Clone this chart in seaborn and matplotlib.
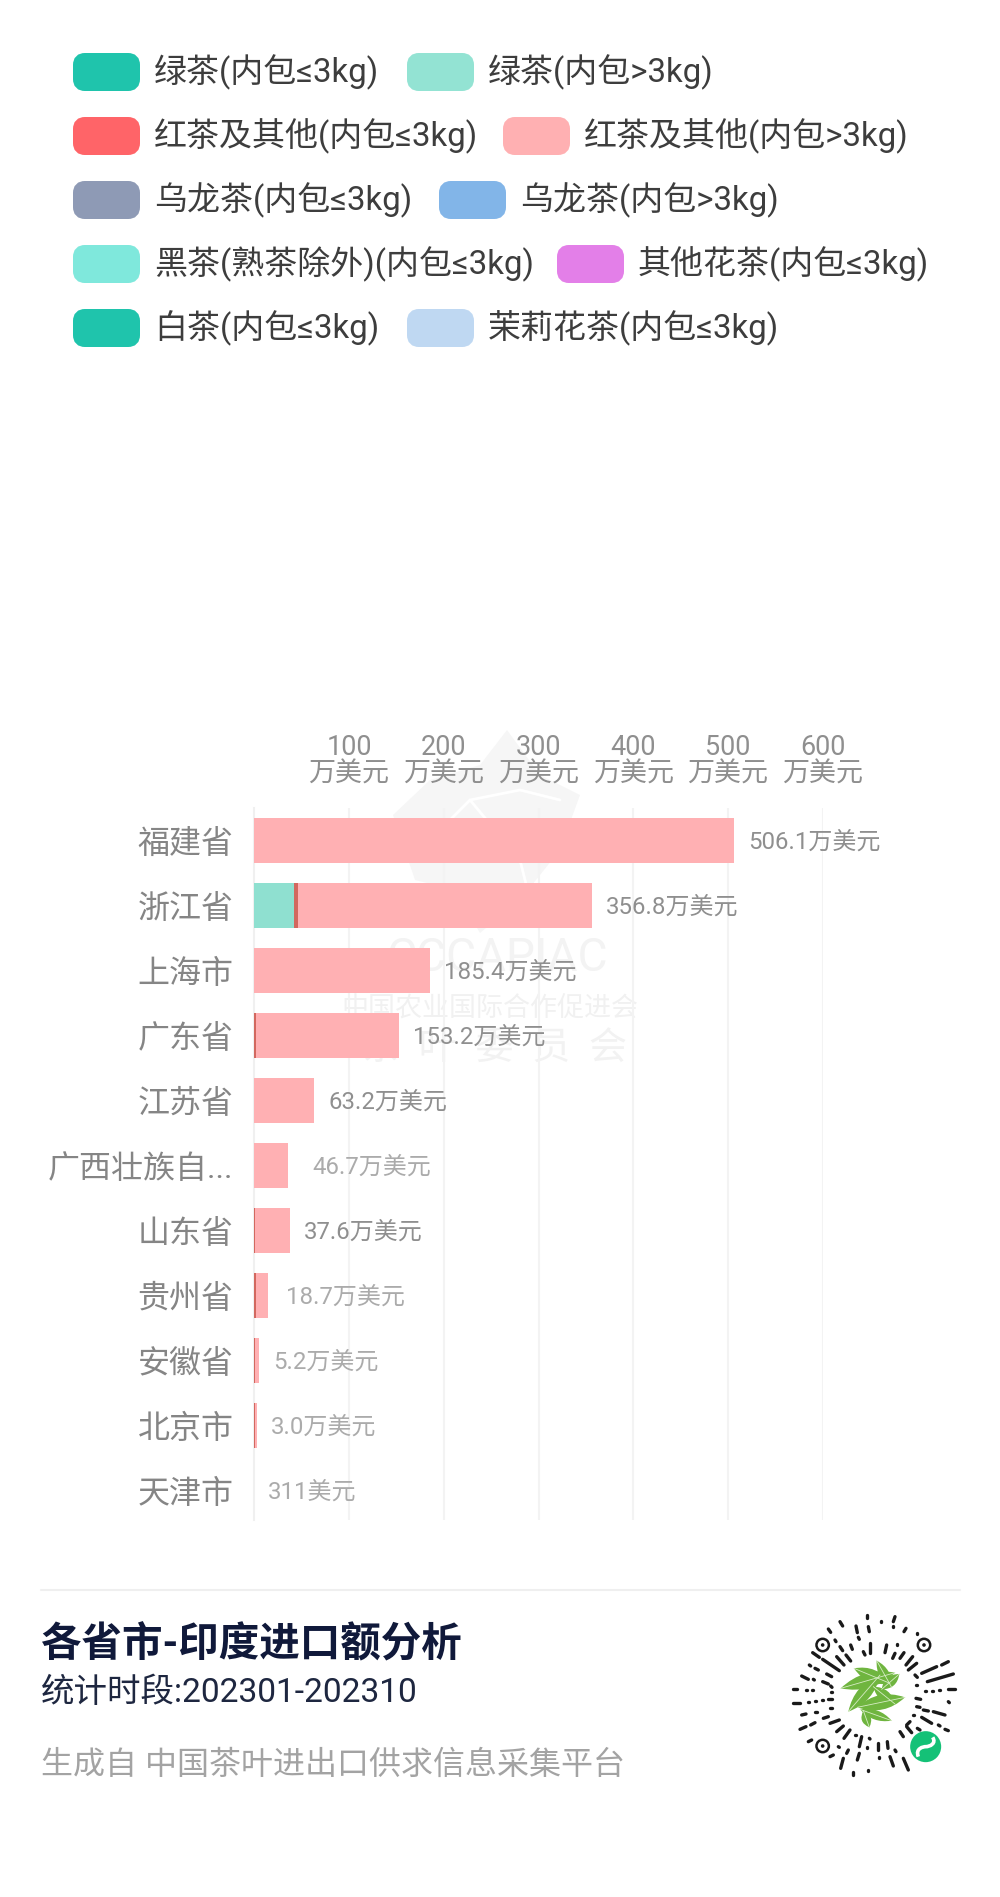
import numpy as np
import pandas as pd
import matplotlib
matplotlib.use("Agg")
import matplotlib.pyplot as plt
from matplotlib.patches import FancyBboxPatch, Polygon, Circle, PathPatch
from matplotlib.path import Path
import seaborn as sns

# datos
provincias = ["福建省", "浙江省", "上海市", "广东省", "江苏省", "广西壮族自...", "山东省", "贵州省", "安徽省", "北京市", "天津市"]
verde_mas3 = [0, 42, 0, 0, 0, 0, 0, 0, 0, 0, 0]
rojo_menos3 = [0, 4, 0, 2, 0, 0, 0.5, 2, 0.5, 0.5, 0]
rojo_mas3 = [506.1, 310.8, 185.4, 151.2, 63.2, 36, 37.1, 12.5, 4.7, 2.5, 0.0311]
totales = [506.1, 356.8, 185.4, 153.2, 63.2, 46.7, 37.6, 18.7, 5.2, 3.0, 0.0311]
etiquetas = ["506.1万美元", "356.8万美元", "185.4万美元", "153.2万美元", "63.2万美元", "46.7万美元",
             "37.6万美元", "18.7万美元", "5.2万美元", "3.0万美元", "311美元"]
ticks = [100, 200, 300, 400, 500, 600]
tick_labels = ["100\n万美元", "200\n万美元", "300\n万美元", "400\n万美元", "500\n万美元", "600\n万美元"]

leyenda = [["绿茶(内包≤3kg)", "绿茶(内包>3kg)"],
           ["红茶及其他(内包≤3kg)", "红茶及其他(内包>3kg)"],
           ["乌龙茶(内包≤3kg)", "乌龙茶(内包>3kg)"],
           ["黑茶(熟茶除外)(内包≤3kg)", "其他花茶(内包≤3kg)"],
           ["白茶(内包≤3kg)", "茉莉花茶(内包≤3kg)"]]
colores_leyenda = [["#1fc4ac", "#93e3d3"], ["#ff6468", "#ffb0b2"], ["#8e9ab5", "#82b5e8"],
                   ["#7fe8dc", "#e37fe8"], ["#1fc4ac", "#bfd8f2"]]

sns.set_theme(style="white")
plt.rcParams['font.family'] = ['Roboto', 'Noto Sans CJK SC', 'DejaVu Sans']

fig = plt.figure(figsize=(10, 18.97), dpi=100, facecolor="white")

# capa de fondo en pixeles: marca de agua, leyenda y pie
fondo = fig.add_axes([0, 0, 1, 1], zorder=0)
fondo.set_xlim(0, 1000)
fondo.set_ylim(1897, 0)
fondo.axis("off")

PX = 0.72  # pixeles a puntos

# leyenda
col2_x = [407, 503, 439, 557, 407]
for fila in range(5):
    yc = 72 + 64 * fila
    for col, x0 in enumerate([73, col2_x[fila]]):
        fondo.add_patch(FancyBboxPatch((x0 + 6, yc - 13), 55, 26, boxstyle="round,pad=0,rounding_size=6",
                                       mutation_aspect=1, fc=colores_leyenda[fila][col], ec=colores_leyenda[fila][col], lw=12 * PX))
        fondo.text(x0 + 81, yc, leyenda[fila][col], fontsize=33 * PX, color="#3d3d3d", va="center", ha="left")

# marca de agua
fondo.add_patch(Polygon([(507, 730), (540, 775), (580, 795), (560, 850), (520, 900), (480, 933), (455, 890),
                         (415, 880), (393, 815), (430, 780), (480, 765)], closed=True, fc="#f6f6f6", ec="none"))
fondo.plot([420, 470, 520, 560], [850, 800, 790, 800], color="white", lw=2)
fondo.plot([470, 520, 530], [800, 860, 900], color="white", lw=2)
fondo.text(497, 958, "CCCAPIAC", fontsize=46 * PX, color="#f3f3f3", ha="center", va="center")
fondo.text(490, 1008, "中国农业国际合作促进会", fontsize=27 * PX, color="#f1f1f1", ha="center", va="center")
fondo.text(495, 1048, "茶  叶  委  员  会", fontsize=38 * PX, color="#f2f2f2", ha="center", va="center")

# pie
fondo.plot([41, 960], [1590, 1590], color="#efefef", lw=1.5)
fondo.text(41, 1645, "各省市-印度进口额分析", fontsize=40.5 * PX, fontweight="bold", color="#10193a", va="center", ha="left")
fondo.text(41, 1693, "统计时段:202301-202310", fontsize=33.5 * PX, color="#1e2740", va="center", ha="left")
fondo.text(41, 1765, "生成自 中国茶叶进出口供求信息采集平台", fontsize=32 * PX, color="#a3a3a3", va="center", ha="left")

# codigo del miniprograma (dibujado en coordenadas del recorte, escala 3)
def qx(v):
    return 780 + v / 3
def qy(v):
    return 1600 + v / 3

trazos = [(262, 45, 262, 55), (345, 50, 340, 65), (180, 65, 188, 78), (302, 63, 302, 67), (228, 78, 232, 98), (265, 80, 268, 95),
          (338, 78, 338, 80), (378, 85, 372, 95), (145, 87, 152, 97), (412, 100, 412, 102), (270, 128, 270, 158), (320, 135, 315, 158),
          (235, 112, 238, 118), (180, 140, 188, 152), (212, 135, 217, 148), (165, 120, 168, 125), (352, 133, 352, 135), (395, 125, 395, 127),
          (345, 160, 338, 175), (372, 158, 360, 175), (250, 155, 255, 165), (293, 158, 293, 160), (98, 158, 118, 172), (128, 178, 178, 212),
          (170, 170, 192, 195), (198, 165, 212, 183), (88, 195, 92, 198), (105, 205, 115, 210), (140, 222, 155, 230), (65, 228, 85, 238),
          (100, 238, 103, 240), (128, 245, 145, 252), (38, 266, 52, 266), (78, 270, 80, 270), (95, 270, 98, 270), (152, 258, 156, 262),
          (152, 275, 155, 275), (38, 308, 60, 308), (85, 305, 88, 305), (105, 303, 108, 303), (125, 300, 128, 300), (145, 298, 155, 298),
          (65, 345, 78, 342), (105, 335, 112, 335), (130, 355, 145, 350), (150, 325, 155, 325), (60, 388, 78, 380), (92, 375, 105, 368),
          (150, 370, 178, 360), (170, 395, 190, 378), (85, 425, 95, 420), (192, 415, 210, 390), (225, 405, 228, 405), (245, 410, 238, 440),
          (205, 450, 200, 460), (175, 440, 178, 442), (238, 460, 232, 480), (190, 475, 182, 505), (150, 470, 160, 465), (220, 515, 220, 525),
          (268, 415, 270, 417), (295, 430, 295, 450), (320, 410, 320, 412), (262, 440, 262, 445), (263, 485, 263, 487), (263, 510, 263, 512),
          (298, 470, 298, 475), (330, 470, 340, 498), (370, 475, 385, 510), (360, 395, 370, 410), (380, 380, 395, 398), (322, 425, 324, 445),
          (345, 450, 348, 455), (398, 170, 378, 195), (385, 210, 410, 190), (425, 220, 470, 200), (485, 195, 505, 185), (442, 245, 520, 222),
          (405, 225, 412, 232), (408, 255, 412, 255), (410, 275, 412, 275), (435, 272, 438, 272), (455, 272, 458, 272), (478, 270, 480, 270),
          (505, 266, 525, 266), (505, 305, 508, 308), (408, 295, 422, 298), (410, 320, 420, 322), (430, 330, 445, 333), (460, 335, 495, 345),
          (400, 345, 402, 345), (425, 352, 455, 370), (475, 375, 480, 378), (495, 388, 505, 392), (390, 365, 380, 375), (412, 385, 420, 390)]
for x1, y1, x2, y2 in trazos:
    fondo.plot([qx(x1), qx(x2)], [qy(y1), qy(y2)], color="#1a1a1a", lw=2.4, solid_capstyle="round")

for cx, cy in [(128, 135), (432, 135), (128, 438)]:
    fondo.add_patch(Circle((qx(cx), qy(cy)), 6.2, fc="none", ec="#1a1a1a", lw=1.8))
    fondo.add_patch(Circle((qx(cx), qy(cy)), 1.8, fc="#1a1a1a", ec="none"))

def hoja(x1, y1, x2, y2, w, color="#6fb53f"):
    # hoja como dos curvas entre punta y base
    mx, my = (x1 + x2) / 2, (y1 + y2) / 2
    dx, dy = x2 - x1, y2 - y1
    n = np.hypot(dx, dy)
    ox, oy = -dy / n * w, dx / n * w
    verts = [(qx(x1), qy(y1)), (qx(mx + ox), qy(my + oy)), (qx(x2), qy(y2)),
             (qx(mx - ox), qy(my - oy)), (qx(x1), qy(y1))]
    codes = [Path.MOVETO, Path.CURVE3, Path.CURVE3, Path.CURVE3, Path.CURVE3]
    fondo.add_patch(PathPatch(Path(verts, codes), fc=color, ec="none"))
    fondo.plot([qx(x1), qx(x2)], [qy(y1), qy(y2)], color="#d6ecc4", lw=0.6)

for h in [(222, 205, 330, 250, 38), (290, 182, 335, 262, 30), (280, 260, 345, 312, 32), (305, 268, 358, 222, 30),
          (182, 265, 345, 218, 44), (205, 335, 300, 225, 40), (232, 322, 375, 292, 44),
          (240, 328, 335, 362, 28), (250, 332, 268, 382, 28)]:
    hoja(*h)

fondo.add_patch(Circle((qx(437), qy(440)), 15.5, fc="#14c177", ec="none"))
s_verts = [(qx(415), qy(470)), (qx(405), qy(445)), (qx(430), qy(440)), (qx(437), qy(440)),
           (qx(450), qy(440)), (qx(470), qy(430)), (qx(458), qy(412))]
s_codes = [Path.MOVETO, Path.CURVE4, Path.CURVE4, Path.CURVE4, Path.CURVE4, Path.CURVE4, Path.CURVE4]
fondo.add_patch(PathPatch(Path(s_verts, s_codes), fc="none", ec="white", lw=2.6))

# grafico de barras apiladas: se dibuja de la suma mayor a la menor
ax = fig.add_axes([254.3 / 1000, 1 - 1520 / 1897, 568.4 / 1000, 712 / 1897], zorder=1)
ax.patch.set_alpha(0)

datos = pd.DataFrame({"provincia": provincias, "verde": verde_mas3, "rojo": rojo_menos3, "rosa": rojo_mas3})
datos["hasta_rojo"] = datos["verde"] + datos["rojo"]
datos["hasta_rosa"] = datos["hasta_rojo"] + datos["rosa"]

for columna, color in [("hasta_rosa", "#ffb0b3"), ("hasta_rojo", "#d2685f"), ("verde", "#8fe0d0")]:
    sns.barplot(data=datos, x=columna, y="provincia", order=provincias, color=color, saturation=1,
                width=0.69, orient="h", errorbar=None, ax=ax, zorder=3, linewidth=0)

ax.set_xlim(0, 600)
ax.set_ylim(10.45, -0.5)
ax.set_xlabel("")
ax.set_ylabel("")
ax.xaxis.tick_top()
ax.set_xticks(ticks)
ax.set_xticklabels(tick_labels, fontsize=27 * PX, color="#8f8f8f", linespacing=0.95)
ax.tick_params(axis="x", length=0, pad=15)
ax.tick_params(axis="y", length=0, pad=15, labelsize=32 * PX, labelcolor="#858585")
ax.grid(axis="x", color="#f3f3f3", lw=1.5, zorder=0)
ax.set_axisbelow(True)
for lado in ["top", "right", "bottom"]:
    ax.spines[lado].set_visible(False)
ax.spines["left"].set_color("#f0f0f0")
ax.spines["left"].set_linewidth(1.5)

grises = ["#8f8f8f", "#8f8f8f", "#8f8f8f", "#8f8f8f", "#8f8f8f", "#ababab", "#8f8f8f", "#ababab", "#ababab", "#ababab", "#ababab"]
for i, (total, texto) in enumerate(zip(totales, etiquetas)):
    ax.annotate(texto, xy=(total, i), xytext=(14 * PX, -1), textcoords="offset points", va="center", ha="left",
                fontsize=24 * PX, color=grises[i], annotation_clip=False)

plt.savefig("out.png", dpi=100)
